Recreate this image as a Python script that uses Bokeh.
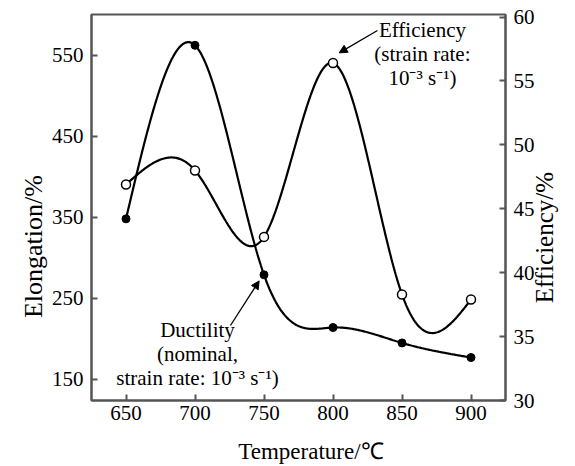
import numpy as np
from bokeh.plotting import figure
from bokeh.models import Range1d, LinearAxis, FixedTicker, Label, Arrow, NormalHead
from bokeh.embed import file_html
from bokeh.resources import INLINE

# ---- data ----
temperature = [650, 700, 750, 800, 850, 900]
ductility = [348, 562, 279, 214, 195, 177]          # Elongation/% (left axis)
efficiency = [46.9, 48.0, 42.8, 56.4, 38.3, 37.9]   # Efficiency/% (right axis)
x_ticks = [650, 700, 750, 800, 850, 900]
left_ticks = [150, 250, 350, 450, 550]
right_ticks = [30, 35, 40, 45, 50, 55, 60]

FONT = "Liberation Serif"
AX = "#555555"


def natural_spline(x, y, n=400):
    x = np.asarray(x, float)
    y = np.asarray(y, float)
    k = len(x)
    h = np.diff(x)
    A = np.zeros((k, k))
    b = np.zeros(k)
    A[0, 0] = A[-1, -1] = 1
    for i in range(1, k - 1):
        A[i, i - 1] = h[i - 1]
        A[i, i] = 2 * (h[i - 1] + h[i])
        A[i, i + 1] = h[i]
        b[i] = 6 * ((y[i + 1] - y[i]) / h[i] - (y[i] - y[i - 1]) / h[i - 1])
    M = np.linalg.solve(A, b)
    xs = np.linspace(x[0], x[-1], n)
    idx = np.clip(np.searchsorted(x, xs) - 1, 0, k - 2)
    x0 = x[idx]
    x1 = x[idx + 1]
    hh = x1 - x0
    t0 = x1 - xs
    t1 = xs - x0
    ys = (M[idx] * t0 ** 3 / (6 * hh) + M[idx + 1] * t1 ** 3 / (6 * hh)
          + (y[idx] / hh - M[idx] * hh / 6) * t0
          + (y[idx + 1] / hh - M[idx + 1] * hh / 6) * t1)
    return xs, ys


p = figure(width=575, height=466, x_range=Range1d(625, 925), y_range=Range1d(124, 600),
           output_backend="svg", toolbar_location=None,
           min_border_left=91, min_border_right=70, min_border_top=14, min_border_bottom=66)
p.extra_y_ranges = {"eff": Range1d(30, 60.2)}
p.grid.visible = False
p.outline_line_color = AX
p.outline_line_width = 2
p.background_fill_color = "white"
p.border_fill_color = "white"


def style(ax, ticks):
    ax.ticker = FixedTicker(ticks=ticks)
    ax.major_label_text_font = FONT
    ax.major_label_text_font_size = "21px"
    ax.major_label_text_color = "black"
    ax.axis_line_color = AX
    ax.axis_line_width = 2
    ax.major_tick_line_color = AX
    ax.major_tick_line_width = 2
    ax.major_tick_in = 6
    ax.major_tick_out = 0
    ax.minor_tick_line_color = None
    ax.major_label_standoff = 8


style(p.xaxis[0], x_ticks)
p.xaxis[0].major_label_standoff = 5
style(p.yaxis[0], left_ticks)
rax = LinearAxis(y_range_name="eff")
style(rax, right_ticks)
p.add_layout(rax, "right")


def title_axis(tick, text, size, standoff, orientation=None, y_range_name=None):
    kw = {}
    if y_range_name:
        kw["y_range_name"] = y_range_name
    ax = LinearAxis(ticker=FixedTicker(ticks=[tick]), major_label_overrides={tick: text}, **kw)
    ax.axis_line_color = None
    ax.major_tick_line_color = None
    ax.minor_tick_line_color = None
    ax.major_tick_in = 0
    ax.major_tick_out = 0
    ax.major_label_text_font = FONT
    ax.major_label_text_font_size = size
    ax.major_label_text_color = "black"
    ax.major_label_standoff = standoff
    if orientation is not None:
        ax.major_label_orientation = orientation
    return ax


# axis titles, as single-label axes so that both vertical titles read bottom-to-top
p.add_layout(title_axis(402, "Elongation/%", "26px", 15, np.pi / 2), "left")
p.add_layout(title_axis(37.6, "Efficiency/%", "25px", 7, np.pi / 2, "eff"), "right")
p.add_layout(title_axis(784, "Temperature/\u2103", "23px", 16), "below")

# ductility
dx, dy = natural_spline(temperature, ductility)
p.line(dx, dy, line_color="black", line_width=2.2)
p.scatter(temperature, ductility, size=8, fill_color="black", line_color="black")

# efficiency
ex, ey = natural_spline(temperature, efficiency)
p.line(ex, ey, line_color="black", line_width=2.2, y_range_name="eff")
p.scatter(temperature, efficiency, size=9, fill_color="white", line_color="black",
          line_width=1.5, y_range_name="eff")

# annotations
p.add_layout(Label(x=864.8, y=59.93, y_range_name="eff",
                   text="Efficiency\n(strain rate:\n10\u207b\u00b3 s\u207b\u00b9)",
                   text_align="center", text_baseline="top", text_font=FONT,
                   text_font_size="21px", text_line_height=1.0, text_color="black"))
p.add_layout(Arrow(x_start=832.2, y_start=58.95, x_end=804.5, y_end=57.2, y_range_name="eff",
                   line_color="black", line_width=1.3,
                   end=NormalHead(size=8, fill_color="black", line_color="black")))

p.add_layout(Label(x=701.8, y=225.8,
                   text="Ductility\n(nominal,\nstrain rate: 10\u207b\u00b3 s\u207b\u00b9)",
                   text_align="center", text_baseline="top", text_font=FONT,
                   text_font_size="21px", text_line_height=1.0, text_color="black"))
p.add_layout(Arrow(x_start=725.7, y_start=216.5, x_end=746.5, y_end=271.5,
                   line_color="black", line_width=1.3,
                   end=NormalHead(size=8, fill_color="black", line_color="black")))

open("out.html", "w").write(file_html(p, INLINE))
